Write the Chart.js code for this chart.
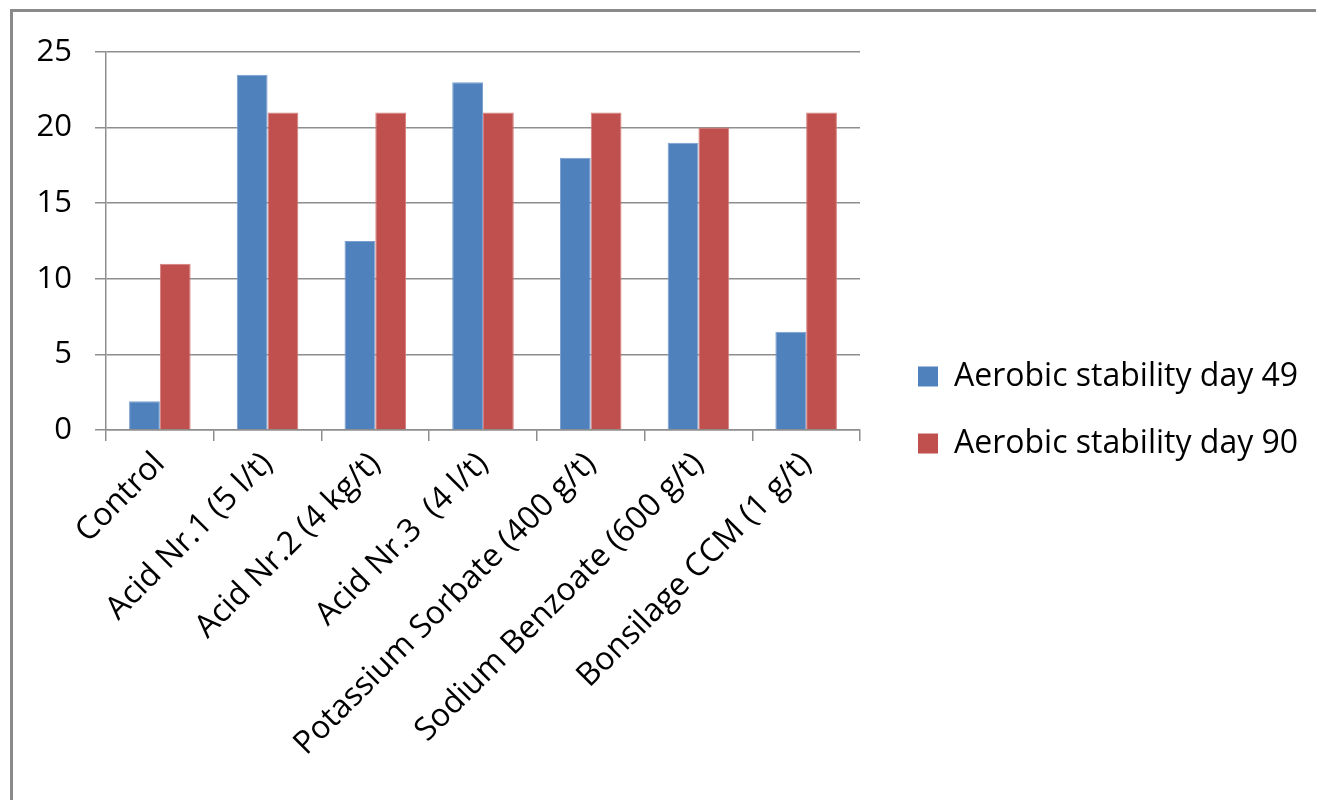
<!DOCTYPE html>
<html>
<head>
<meta charset="utf-8">
<title>Aerobic stability</title>
<script src="https://cdn.jsdelivr.net/npm/chart.js@4.4.1/dist/chart.umd.min.js"></script>
<style>
  html, body { margin: 0; padding: 0; background: #ffffff; }
  #wrap { position: relative; width: 1318px; height: 800px; overflow: hidden; background: #ffffff; }
  #frame {
    position: absolute; left: 10px; top: 9px; width: 1306px; height: 900px;
    border-left: 3px solid #8a8a8a; border-top: 3px solid #8a8a8a; box-sizing: border-box;
  }
  #chart { position: absolute; left: 0; top: 0; }
</style>
</head>
<body>
<div id="wrap">
  <div id="frame"></div>
  <canvas id="chart" width="1318" height="800"></canvas>
</div>
<script>
// Treatments along the x axis
const categories = [
  'Control',
  'Acid Nr.1 (5 l/t)',
  'Acid Nr.2 (4 kg/t)',
  'Acid Nr.3  (4 l/t)',
  'Potassium Sorbate (400 g/t)',
  'Sodium Benzoate (600 g/t)',
  'Bonsilage CCM (1 g/t)'
];

// Aerobic stability per treatment
const stabilityDay49 = [1.9, 23.5, 12.5, 23, 18, 19, 6.5];
const stabilityDay90 = [11, 21, 21, 21, 21, 20, 21];

const seriesNames = ['Aerobic stability day 49', 'Aerobic stability day 90'];
const seriesColors = ['#4F81BD', '#C0504D'];
const seriesEdges = ['#7a9fd0', '#d67f7c'];

// Value axis
const yTicks = [0, 5, 10, 15, 20, 25];

const FAMILY = '"Open Sans", Lato, sans-serif';
const LABEL_FONT = { family: FAMILY, size: 32 };
const VALUE_FONT = { family: FAMILY, size: 31 };
const GRID = '#8e8e8e';

// Fixed plot geometry (pixels on the canvas)
const PLOT = { left: 106, top: 52, bottom: 430 };
const LEGEND = { width: 458, indent: 58, shiftY: -16 };

// Keeps the legend column at a fixed width and offset from the plot
const legendPlacement = {
  id: 'legendPlacement',
  beforeLayout(chart) {
    const lg = chart.legend;
    if (lg && !lg.__fixed) {
      const fit = lg.fit.bind(lg);
      lg.fit = function () { fit(); this.width = LEGEND.width; };
      lg.__fixed = true;
    }
  },
  afterLayout(chart) {
    const lg = chart.legend;
    if (!lg) return;
    const pad = lg.options.labels.padding;
    const dx = chart.chartArea.right + LEGEND.indent - pad - lg.left;
    lg.left += dx; lg.right += dx;
    lg.top += LEGEND.shiftY; lg.bottom += LEGEND.shiftY;
  }
};

new Chart(document.getElementById('chart'), {
  type: 'bar',
  data: {
    labels: categories,
    datasets: [
      { label: seriesNames[0], data: stabilityDay49, backgroundColor: seriesColors[0], borderColor: seriesEdges[0] },
      { label: seriesNames[1], data: stabilityDay90, backgroundColor: seriesColors[1], borderColor: seriesEdges[1] }
    ]
  },
  options: {
    responsive: false,
    animation: false,
    devicePixelRatio: 1,
    layout: { padding: { top: PLOT.top, left: 0, right: 0, bottom: 0 } },
    datasets: {
      bar: { categoryPercentage: 2 / 3.5, barPercentage: 1, borderWidth: { top: 1, left: 1, right: 1, bottom: 0 } }
    },
    plugins: {
      legend: {
        position: 'right',
        labels: {
          boxWidth: 20,
          boxHeight: 20,
          padding: 35,
          color: '#000000',
          font: LABEL_FONT,
          generateLabels(chart) {
            return chart.data.datasets.map((ds, i) => ({
              text: ds.label,
              fillStyle: ds.backgroundColor,
              strokeStyle: ds.backgroundColor,
              lineWidth: 0,
              fontColor: '#000000',
              hidden: !chart.isDatasetVisible(i),
              datasetIndex: i
            }));
          }
        }
      },
      tooltip: { enabled: false },
      title: { display: false }
    },
    scales: {
      x: {
        grid: {
          offset: true,
          drawOnChartArea: false,
          drawTicks: true,
          tickLength: 11,
          color: GRID,
          lineWidth: 1.5
        },
        border: { display: true, color: GRID, width: 1.5 },
        ticks: {
          color: '#000000',
          font: LABEL_FONT,
          minRotation: 45,
          maxRotation: 45,
          autoSkip: false,
          padding: 4
        },
        afterFit(scale) { scale.height = 800 - PLOT.bottom; }
      },
      y: {
        min: 0,
        max: 25,
        afterBuildTicks(scale) { scale.ticks = yTicks.map(v => ({ value: v })); },
        grid: {
          drawOnChartArea: true,
          drawTicks: true,
          tickLength: 11,
          color: GRID,
          lineWidth: 1.5
        },
        border: { display: true, color: GRID, width: 1.5 },
        ticks: {
          color: '#000000',
          font: VALUE_FONT,
          padding: 23
        },
        afterFit(scale) { scale.width = PLOT.left; }
      }
    }
  },
  plugins: [legendPlacement]
});
</script>
</body>
</html>
